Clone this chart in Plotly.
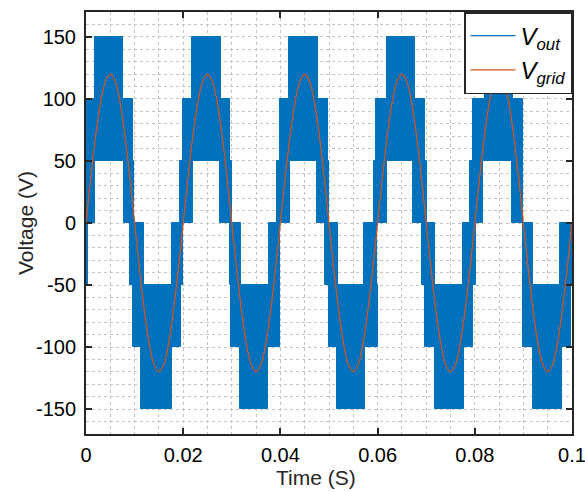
import plotly.graph_objects as go

# ---------------- data ----------------
# Inverter output V_out: fast PWM switching between adjacent levels.
# Each band lists the time windows (s) in which the output switches
# between the two given voltage levels (V).
band_100_150_start = [0.0019, 0.0218, 0.0418, 0.0619, 0.0822]
band_100_150_end   = [0.0077, 0.0277, 0.0477, 0.0677, 0.0878]

band_50_100_start = [0.0000, 0.0199, 0.0399, 0.0597, 0.0797]
band_50_100_end   = [0.0097, 0.0296, 0.0497, 0.0698, 0.0900]

band_0_50_start = [0.0000, 0.0078, 0.0193, 0.0276, 0.0392, 0.0476, 0.0593, 0.0672, 0.0790, 0.0876]
band_0_50_end   = [0.0019, 0.0099, 0.0220, 0.0300, 0.0420, 0.0499, 0.0619, 0.0701, 0.0817, 0.0900]

band_m50_0_start = [0.0000, 0.0090, 0.0176, 0.0296, 0.0377, 0.0492, 0.0571, 0.0691, 0.0776, 0.0899, 0.0975]
band_m50_0_end   = [0.0004, 0.0119, 0.0200, 0.0319, 0.0399, 0.0519, 0.0598, 0.0718, 0.0802, 0.0920, 0.1000]

band_m100_m50_start = [0.0097, 0.0298, 0.0500, 0.0698, 0.0899]
band_m100_m50_end   = [0.0196, 0.0399, 0.0601, 0.0796, 0.0998]

band_m150_m100_start = [0.0114, 0.0317, 0.0516, 0.0718, 0.0920]
band_m150_m100_end   = [0.0176, 0.0375, 0.0575, 0.0778, 0.0979]

bands = [
    (100, 150, band_100_150_start, band_100_150_end),
    (50, 100, band_50_100_start, band_50_100_end),
    (0, 50, band_0_50_start, band_0_50_end),
    (-50, 0, band_m50_0_start, band_m50_0_end),
    (-100, -50, band_m100_m50_start, band_m100_m50_end),
    (-150, -100, band_m150_m100_start, band_m150_m100_end),
]

# Grid voltage V_grid sampled every 1 ms (V)
vgrid_t = [i / 1000 for i in range(101)]
vgrid_v = [
    0, 37.1, 70.5, 97.1, 114.1, 120, 114.1, 97.1, 70.5, 37.1,
    0, -37.1, -70.5, -97.1, -114.1, -120, -114.1, -97.1, -70.5, -37.1,
    0, 37.1, 70.5, 97.1, 114.1, 120, 114.1, 97.1, 70.5, 37.1,
    0, -37.1, -70.5, -97.1, -114.1, -120, -114.1, -97.1, -70.5, -37.1,
    0, 37.1, 70.5, 97.1, 114.1, 120, 114.1, 97.1, 70.5, 37.1,
    0, -37.1, -70.5, -97.1, -114.1, -120, -114.1, -97.1, -70.5, -37.1,
    0, 37.1, 70.5, 97.1, 114.1, 120, 114.1, 97.1, 70.5, 37.1,
    0, -37.1, -70.5, -97.1, -114.1, -120, -114.1, -97.1, -70.5, -37.1,
    0, 37.1, 70.5, 97.1, 114.1, 120, 114.1, 97.1, 70.5, 37.1,
    0, -37.1, -70.5, -97.1, -114.1, -120, -114.1, -97.1, -70.5, -37.1,
    0,
]

x_ticks = [0, 0.02, 0.04, 0.06, 0.08, 0.1]
x_tick_labels = ["0", "0.02", "0.04", "0.06", "0.08", "0.1"]
y_ticks = [-150, -100, -50, 0, 50, 100, 150]
y_tick_labels = ["-150", "-100", "-50", "0", "50", "100", "150"]

BLUE = "#0072BD"
ORANGE = "#D95319"
INK = "#262626"
FONT = "Liberation Sans, Arial, sans-serif"

# ---------------- figure ----------------
fig = go.Figure()

# legend entry for V_out
fig.add_trace(go.Scatter(x=[None], y=[None], mode="lines",
                         line=dict(color=BLUE, width=1.2),
                         name="<i>V<sub>out</sub></i>"))

for lo, hi, starts, ends in bands:
    fig.add_trace(go.Bar(
        x=[(s + e) / 2 for s, e in zip(starts, ends)],
        width=[e - s for s, e in zip(starts, ends)],
        base=[lo] * len(starts),
        y=[hi - lo] * len(starts),
        marker=dict(color=BLUE, line=dict(color=BLUE, width=1)),
        showlegend=False, hoverinfo="skip",
    ))

fig.add_trace(go.Scatter(x=vgrid_t, y=vgrid_v, mode="lines",
                         line=dict(color=ORANGE, width=1.2, shape="spline"),
                         name="<i>V<sub>grid</sub></i>"))

axis_common = dict(
    showline=True, linecolor=INK, linewidth=2, mirror="ticks",
    ticks="inside", ticklen=6, tickwidth=2, tickcolor=INK,
    showgrid=True, gridcolor="#c4c4c4", gridwidth=1, griddash="dot",
    zeroline=False, ticklabeloverflow="allow",
    tickfont=dict(family=FONT, size=20, color="black"),
)

fig.update_xaxes(
    range=[0, 0.1], tickvals=x_ticks, ticktext=x_tick_labels,
    minor=dict(dtick=0.005, showgrid=True, gridcolor="#c4c4c4",
               griddash="dot", gridwidth=1, ticks=""),
    automargin=False, ticklabelstandoff=2,
    **axis_common,
)
fig.update_yaxes(
    range=[-170, 170], tickvals=y_ticks, ticktext=y_tick_labels,
    minor=dict(dtick=10, showgrid=True, gridcolor="#c4c4c4",
               griddash="dot", gridwidth=1, ticks=""),
    automargin=False, ticklabelstandoff=4,
    **axis_common,
)

fig.update_layout(
    width=585, height=492,
    margin=dict(l=86, r=13, t=12, b=58),
    paper_bgcolor="white", plot_bgcolor="white",
    barmode="overlay", bargap=0,
    font=dict(family=FONT, color=INK),
    legend=dict(
        x=1, y=1, xanchor="right", yanchor="top",
        bgcolor="white", bordercolor=INK, borderwidth=1.5,
        font=dict(family=FONT, size=24, color="black"),
        itemwidth=45, tracegroupgap=0,
    ),
    showlegend=True,
    annotations=[
        dict(text="Time (S)", xref="paper", yref="paper",
             x=0.473, y=-0.102, xanchor="center", yanchor="middle",
             showarrow=False, font=dict(family=FONT, size=21, color=INK)),
        dict(text="Voltage (V)", xref="paper", yref="paper",
             x=-0.1255, y=0.5, xanchor="center", yanchor="middle",
             textangle=-90, showarrow=False,
             font=dict(family=FONT, size=21, color=INK)),
    ],
)

fig.write_html("out.html")
